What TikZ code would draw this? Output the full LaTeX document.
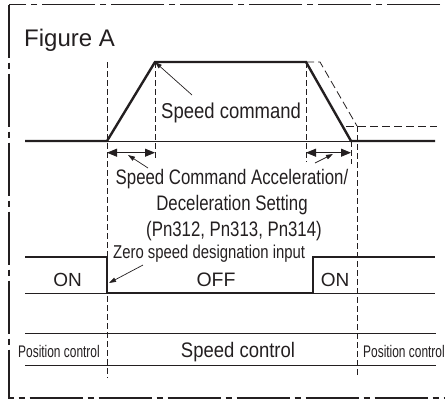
\documentclass[tikz,border=0pt]{standalone}
\usepackage{fontspec}
\setmainfont{Liberation Sans}
\newfontfamily\fnorm{Liberation Sans}
\newfontfamily\fcondA[FakeStretch=0.80]{Liberation Sans}
\newfontfamily\fcondB[FakeStretch=0.86]{Liberation Sans}
\newfontfamily\fcondC[FakeStretch=0.71]{Liberation Sans}
\newfontfamily\fcondD[FakeStretch=0.88]{Liberation Sans}
\usetikzlibrary{arrows.meta}
\definecolor{ink}{RGB}{35,31,32}
\begin{document}
\begin{tikzpicture}[x=1pt,y=-1pt,
  thickline/.style={line width=2.4pt, draw=ink, line join=miter},
  thinline/.style={line width=1pt, draw=ink},
  vdash/.style={line width=0.8pt, draw=ink, dash pattern=on 6pt off 3pt},
  hdash/.style={line width=0.8pt, draw=ink, dash pattern=on 8pt off 4pt},
  framestyle/.style={line width=1.3pt, draw=ink, dash pattern=on 53pt off 5pt on 6pt off 5pt},
  dimarrow/.style={line width=0.9pt, draw=ink, {Triangle[length=10pt,width=8pt]}-{Triangle[length=10pt,width=8pt]}},
  leader/.style={line width=0.7pt, draw=ink, -{Triangle[length=7pt,width=4.5pt]}},
  lbl/.style={inner sep=0pt, text=ink},
]
\useasboundingbox (0,0) rectangle (445,400);
\clip (0,0) rectangle (445,400);
% frame
\draw[framestyle] (9,4.5) rectangle (452,398);

% title
\node[lbl, anchor=base west, font=\fnorm\fontsize{24}{28}\selectfont] (title) at (24,46) {Figure A};

% speed profile coordinates
\coordinate (s0) at (25,141);
\coordinate (s1) at (107,141);
\coordinate (s2) at (155,62);
\coordinate (s3) at (306,62);
\coordinate (s4) at (351,141);
\coordinate (s5) at (435,141);
\coordinate (d1) at (320,62);
\coordinate (d2) at (357,126);
\coordinate (d3) at (346,126);
\coordinate (d4) at (437,126);

% vertical dashed guides
\coordinate (vA1) at (107,62);  \coordinate (vA2) at (107,378);
\coordinate (vB1) at (155,62);  \coordinate (vB2) at (155,158);
\coordinate (vC1) at (306,62);  \coordinate (vC2) at (306,162);
\coordinate (vD1) at (351,141); \coordinate (vD2) at (351,164);
\coordinate (vE1) at (357,126); \coordinate (vE2) at (357,376);
\draw[vdash] (vA1) -- (vA2);
\draw[vdash] (vB1) -- (vB2);
\draw[vdash] (vC1) -- (vC2);
\draw[vdash] (vD1) -- (vD2);
\draw[vdash] (vE1) -- (vE2);

% delayed (dashed) profile
\draw[hdash] (s3) -- (d1) -- (d2);
\draw[hdash] (d3) -- (d4);

% axis and speed profile
\draw[thinline] (s0) -- (s5);
\draw[thickline] (s0) -- (s1) -- (s2) -- (s3) -- (s4) -- (s5);

% dimension arrows
\coordinate (a1) at (107,152.7); \coordinate (a2) at (155,152.7);
\coordinate (a3) at (306,152.7); \coordinate (a4) at (351,152.7);
\draw[dimarrow] (a1) -- (a2);
\draw[dimarrow] (a3) -- (a4);

% speed command label
\node[lbl, anchor=base west, font=\fcondB\fontsize{21.5}{25}\selectfont] (sc) at (161,118) {Speed command};
\coordinate (scL) at (192,95);
\draw[leader] (scL) -- (s2);

% acceleration label
\node[lbl, anchor=base, font=\fcondA\fontsize{21}{25.7}\selectfont] (acc1) at (232,184) {Speed Command Acceleration/};
\node[lbl, anchor=base, font=\fcondA\fontsize{21}{25.7}\selectfont] (acc2) at (232,210) {Deceleration Setting};
\node[lbl, anchor=base, font=\fcondA\fontsize{21}{25.7}\selectfont] (acc3) at (234,236) {(Pn312, Pn313, Pn314)};
\coordinate (lA) at (148,168); \coordinate (lAt) at (128,155);
\coordinate (lB) at (315,163); \coordinate (lBt) at (333,154);
\draw[leader] (lA) -- (lAt);
\draw[leader] (lB) -- (lBt);

% zero speed designation signal
\coordinate (z0) at (25,257);
\coordinate (z1) at (107,257);
\coordinate (z2) at (107,293);
\coordinate (z3) at (313,293);
\coordinate (z4) at (313,257);
\coordinate (z5) at (435,257);
\coordinate (zb0) at (25,293);
\coordinate (zb1) at (435,293);
\draw[thinline] (zb0) -- (zb1);
\draw[thickline] (z0) -- (z1) -- (z2) -- (z3) -- (z4) -- (z5);
\node[lbl, anchor=base west, font=\fcondA\fontsize{18.6}{22}\selectfont] (zs) at (113,258) {Zero speed designation input};
\coordinate (zL) at (143,265); \coordinate (zLt) at (109,283);
\draw[leader] (zL) -- (zLt);
\node[lbl, anchor=base, font=\fnorm\fontsize{19}{22}\selectfont] (on1) at (67.5,286) {ON};
\node[lbl, anchor=base, font=\fnorm\fontsize{19.5}{22}\selectfont] (off) at (216,286) {OFF};
\node[lbl, anchor=base, font=\fnorm\fontsize{19}{22}\selectfont] (on2) at (335,286) {ON};

% control rows
\coordinate (r1a) at (25,333); \coordinate (r1b) at (436,333);
\coordinate (r2a) at (25,365); \coordinate (r2b) at (436,365);
\draw[thinline] (r1a) -- (r1b);
\draw[thinline] (r2a) -- (r2b);
\node[lbl, anchor=base west, font=\fcondC\fontsize{16.8}{20}\selectfont] (pc1) at (18,357) {Position control};
\node[lbl, anchor=base, font=\fcondD\fontsize{21}{25}\selectfont] (spc) at (238,357) {Speed control};
\node[lbl, anchor=base west, font=\fcondC\fontsize{16.8}{20}\selectfont] (pc2) at (363,357) {Position control};
\end{tikzpicture}
\end{document}
